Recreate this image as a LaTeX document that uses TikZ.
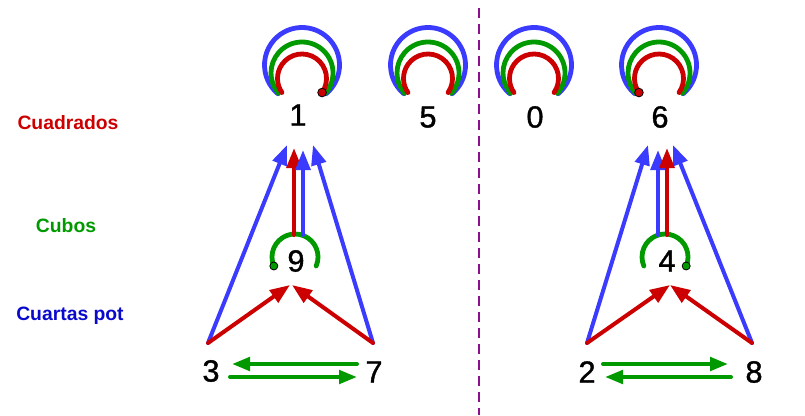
\documentclass[tikz,border=0pt]{standalone}
\usepackage{fontspec}
\setmainfont{Liberation Sans}
\newfontfamily\digitfont[FakeBold=1.2]{Liberation Sans}
\usepackage{tikz}
\usetikzlibrary{arrows.meta, calc}
\definecolor{sqred}{HTML}{CC0000}
\definecolor{cubgreen}{HTML}{009900}
\definecolor{quartblue}{HTML}{3B3BFF}
\definecolor{labelblue}{HTML}{0A0ACC}
\definecolor{splitpurple}{HTML}{8E0F8E}

\begin{document}
\begin{tikzpicture}[
  x=0.75pt, y=0.75pt,
  digit/.style={inner sep=0pt, font=\digitfont\fontsize{23}{24}\selectfont},
  legend/.style={inner sep=0pt, font=\fontsize{14.5}{16}\selectfont\bfseries},
  loopline/.style={line width=3.6pt, line cap=round},
  arrow/.style={-{Triangle[length=15pt, width=11pt]}, line width=3pt, line cap=round},
  pair/.style={-{Triangle[length=13.5pt, width=10pt]}, line width=3pt, line cap=round, color=cubgreen},
  startdot/.style={circle, draw=black, line width=0.6pt, inner sep=0pt, minimum size=6.5pt},
]
  \useasboundingbox (0,0) rectangle (805,415);

  \node[legend, text=sqred] (lsq) at (68,292) {Cuadrados};
  \node[legend, text=cubgreen] (lcub) at (66,189) {Cubos};
  \node[legend, text=labelblue] (lquart) at (70,99) {Cuartas pot};

  \node[digit] (n1) at (298,300) {1};
  \node[digit] (n5) at (428,298) {5};
  \node[digit] (n0) at (535,298) {0};
  \node[digit] (n6) at (660,298) {6};
  \node[digit] (n9) at (296,154) {9};
  \node[digit] (n4) at (667,154) {4};
  \node[digit] (n3) at (211,44) {3};
  \node[digit] (n7) at (374,43) {7};
  \node[digit] (n2) at (587,43) {2};
  \node[digit] (n8) at (754,43) {8};

  \coordinate (splittop) at (479,407);
  \coordinate (splitbot) at (479,0);
  \draw[splitpurple, line width=1.6pt, dash pattern=on 7.5pt off 4.5pt] (splittop) -- (splitbot);

  \foreach \num/\dx/\dy in {n1/4/-2, n5/0/0, n0/-1/0, n6/-1/0} {
    \draw[loopline, quartblue] ($(\num)+(\dx,52+\dy)$) ++(-50:37.5) arc[start angle=-50, end angle=230, radius=37.5];
    \draw[loopline, cubgreen] ($(\num)+(\dx,44+\dy)$) ++(-41:31) arc[start angle=-41, end angle=221, radius=31];
    \draw[loopline, sqred] ($(\num)+(\dx,38.5+\dy)$) ++(-35:24.5) arc[start angle=-35, end angle=215, radius=24.5];
  }
  \node[startdot, fill=sqred] (d1) at ($(n1)+(4,36.5)+(-35:24.5)$) {};
  \node[startdot, fill=sqred] (d6) at ($(n6)+(-1,38.5)+(215:24.5)$) {};

  \draw[loopline, cubgreen] ($(n9)+(-1,4)$) ++(-23:23) arc[start angle=-23, end angle=203, radius=23];
  \draw[loopline, cubgreen] ($(n4)+(-2,4)$) ++(-23:23) arc[start angle=-23, end angle=203, radius=23];
  \node[startdot, fill=cubgreen, minimum size=6pt] (d9) at ($(n9)+(-1,4)+(203:23)$) {};
  \node[startdot, fill=cubgreen, minimum size=6pt] (d4) at ($(n4)+(-2,4)+(-23:23)$) {};

  \draw[arrow, quartblue] ($(n3)+(-3,28)$) -- ($(n1)+(-11,-30)$);
  \draw[arrow, quartblue] ($(n7)+(-1,29)$) -- ($(n1)+(15,-30)$);
  \draw[arrow, sqred] ($(n9)+(-2,26)$) -- ($(n1)+(-4,-33)$);
  \draw[arrow, quartblue] ($(n9)+(7,26)$) -- ($(n1)+(5,-35)$);
  \draw[arrow, sqred] ($(n3)+(-3,28)$) -- ($(n9)+(-6,-24)$);
  \draw[arrow, sqred] ($(n7)+(-1,29)$) -- ($(n9)+(-4,-24)$);
  \draw[pair] ($(n7)+(-17,8)$) -- ($(n3)+(21,7)$);
  \draw[pair] ($(n3)+(19,-6)$) -- ($(n7)+(-17,-5)$);

  \draw[arrow, quartblue] ($(n2)+(0,29)$) -- ($(n6)+(-12,-28)$);
  \draw[arrow, quartblue] ($(n8)+(-2,29)$) -- ($(n6)+(13,-28)$);
  \draw[arrow, quartblue] ($(n4)+(-9,26)$) -- ($(n6)+(-2,-33)$);
  \draw[arrow, sqred] ($(n4)+(0,26)$) -- ($(n6)+(7,-31)$);
  \draw[arrow, sqred] ($(n2)+(0,29)$) -- ($(n4)+(3,-24)$);
  \draw[arrow, sqred] ($(n8)+(-2,29)$) -- ($(n4)+(3,-24)$);
  \draw[pair] ($(n2)+(16,8)$) -- ($(n8)+(-26,8)$);
  \draw[pair] ($(n8)+(-23,-5)$) -- ($(n2)+(18,-5)$);
\end{tikzpicture}
\end{document}
